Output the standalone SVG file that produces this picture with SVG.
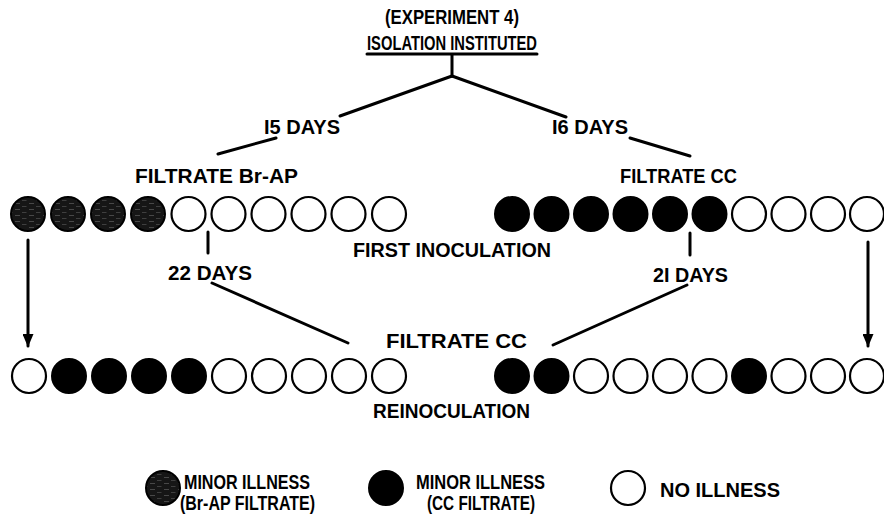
<svg xmlns="http://www.w3.org/2000/svg" width="884" height="517" viewBox="0 0 884 517">
<style>
text{font-family:"Liberation Sans",Arial,sans-serif;font-weight:bold;font-size:20px;fill:#000}
.ln{stroke:#000;stroke-width:3;fill:none;stroke-linecap:round}
.open{fill:#fff;stroke:#000;stroke-width:2.2}
.blk{fill:#000;stroke:#000;stroke-width:2}
.hat{fill:url(#hatch);stroke:#000;stroke-width:2}
</style>
<defs>
<pattern id="hatch" patternUnits="userSpaceOnUse" width="14" height="6">
<rect width="14" height="6" fill="#161616"/>
<line x1="1" y1="1.5" x2="6" y2="1.5" stroke="#6a6a6a" stroke-width="0.6"/>
<line x1="8" y1="4.5" x2="12.5" y2="4.5" stroke="#5a5a5a" stroke-width="0.6"/>
</pattern>
<marker id="ah" markerWidth="13" markerHeight="11" refX="12" refY="5.5" orient="auto" markerUnits="userSpaceOnUse" viewBox="0 0 13 11">
<path d="M0,0 L13,5.5 L0,11 Z" fill="#000"/>
</marker>
<circle id="co" r="17" class="open"/>
<circle id="cb" r="17" class="blk"/>
<circle id="ch" r="17" class="hat"/>
</defs>

<g id="connectors">
<line class="ln" x1="367" y1="54" x2="537" y2="54" stroke-width="2.5"/>
<line class="ln" x1="452" y1="55" x2="452" y2="76"/>
<line class="ln" x1="452" y1="76" x2="340" y2="116"/>
<line class="ln" x1="452" y1="76" x2="566" y2="117"/>
<line class="ln" x1="276" y1="138" x2="218" y2="154"/>
<line class="ln" x1="630" y1="138" x2="690" y2="156"/>
<line class="ln" x1="28" y1="240" x2="28" y2="346" marker-end="url(#ah)"/>
<line class="ln" x1="868" y1="242" x2="868" y2="346" marker-end="url(#ah)"/>
<line class="ln" x1="208" y1="232" x2="208" y2="253"/>
<line class="ln" x1="690" y1="233" x2="690" y2="255"/>
<line class="ln" x1="212" y1="283" x2="348" y2="343"/>
<line class="ln" x1="687" y1="285" x2="553" y2="345"/>
</g>

<g id="title">
<text x="385" y="24" textLength="134" lengthAdjust="spacingAndGlyphs">(EXPERIMENT 4)</text>
<text x="367" y="50" textLength="170" lengthAdjust="spacingAndGlyphs">ISOLATION INSTITUTED</text>
</g>
<g id="label-15days"><text x="264" y="134" textLength="76" lengthAdjust="spacingAndGlyphs">I5 DAYS</text></g>
<g id="label-16days"><text x="552" y="134" textLength="76" lengthAdjust="spacingAndGlyphs">I6 DAYS</text></g>
<g id="label-filtrate-brap"><text x="135" y="183" textLength="163" lengthAdjust="spacingAndGlyphs">FILTRATE Br-AP</text></g>
<g id="label-filtrate-cc-top"><text x="620" y="183" textLength="117" lengthAdjust="spacingAndGlyphs">FILTRATE CC</text></g>
<g id="label-first"><text x="353" y="257" textLength="198" lengthAdjust="spacingAndGlyphs">FIRST INOCULATION</text></g>
<g id="label-22days"><text x="168" y="280" textLength="84" lengthAdjust="spacingAndGlyphs">22 DAYS</text></g>
<g id="label-21days"><text x="653" y="282" textLength="75" lengthAdjust="spacingAndGlyphs">2I DAYS</text></g>
<g id="label-filtrate-cc-mid"><text x="386" y="348" textLength="141" lengthAdjust="spacingAndGlyphs">FILTRATE CC</text></g>
<g id="label-reinoculation"><text x="373" y="418" textLength="157" lengthAdjust="spacingAndGlyphs">REINOCULATION</text></g>

<g id="row-first-left">
<use href="#ch" x="28" y="214"/><use href="#ch" x="68" y="214"/><use href="#ch" x="108" y="214"/><use href="#ch" x="148" y="214"/>
<use href="#co" x="188.5" y="214"/><use href="#co" x="228.5" y="214"/><use href="#co" x="268.5" y="214"/><use href="#co" x="308.5" y="214"/><use href="#co" x="348.5" y="214"/><use href="#co" x="389" y="214"/>
</g>
<g id="row-first-right">
<use href="#cb" x="512" y="214"/><use href="#cb" x="551.5" y="214"/><use href="#cb" x="591" y="214"/><use href="#cb" x="630.5" y="214"/><use href="#cb" x="670" y="214"/><use href="#cb" x="709.5" y="214"/>
<use href="#co" x="749" y="214"/><use href="#co" x="788.5" y="214"/><use href="#co" x="828" y="214"/><use href="#co" x="867" y="214"/>
</g>
<g id="row-reinoc-left">
<use href="#co" x="29" y="376"/>
<use href="#cb" x="69" y="376"/><use href="#cb" x="109" y="376"/><use href="#cb" x="149" y="376"/><use href="#cb" x="189" y="376"/>
<use href="#co" x="229" y="376"/><use href="#co" x="269" y="376"/><use href="#co" x="309" y="376"/><use href="#co" x="349" y="376"/><use href="#co" x="389" y="376"/>
</g>
<g id="row-reinoc-right">
<use href="#cb" x="512" y="376"/><use href="#cb" x="551.5" y="376"/>
<use href="#co" x="591" y="376"/><use href="#co" x="630.5" y="376"/><use href="#co" x="670" y="376"/><use href="#co" x="709.5" y="376"/>
<use href="#cb" x="749" y="376"/>
<use href="#co" x="788.5" y="376"/><use href="#co" x="828" y="376"/><use href="#co" x="867" y="376"/>
</g>

<g id="legend-brap">
<use href="#ch" x="163" y="488"/>
<text x="184" y="489" textLength="126" lengthAdjust="spacingAndGlyphs">MINOR ILLNESS</text>
<text x="180" y="510" textLength="135" lengthAdjust="spacingAndGlyphs">(Br-AP FILTRATE)</text>
</g>
<g id="legend-cc">
<use href="#cb" x="386" y="488"/>
<text x="416" y="489" textLength="129" lengthAdjust="spacingAndGlyphs">MINOR ILLNESS</text>
<text x="427" y="510" textLength="108" lengthAdjust="spacingAndGlyphs">(CC FILTRATE)</text>
</g>
<g id="legend-none">
<use href="#co" x="628" y="488"/>
<text x="660" y="497" textLength="120" lengthAdjust="spacingAndGlyphs">NO ILLNESS</text>
</g>
</svg>
